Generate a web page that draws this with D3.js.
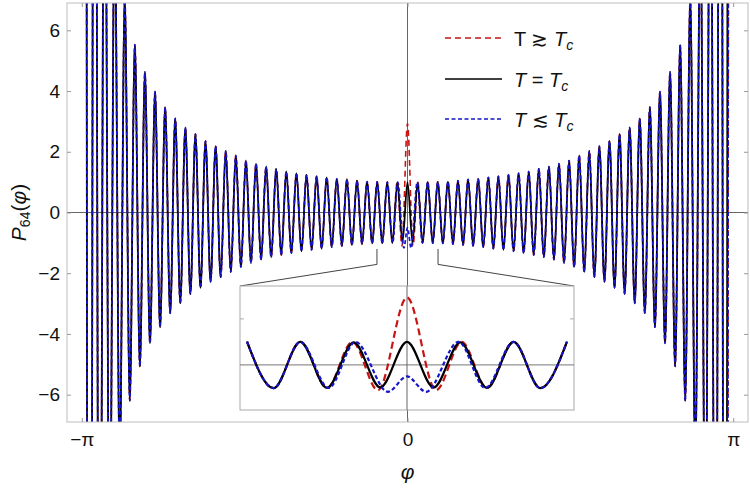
<!DOCTYPE html>
<html>
<head>
<meta charset="utf-8" />
<title>P64 near Tc</title>
<script src="https://d3js.org/d3.v7.min.js"></script>
<style>
  body { margin: 0; background: #fff; }
  text { font-family: "Liberation Sans", Arial, sans-serif; fill: #111; }
</style>
</head>
<body>
<svg width="750" height="492"></svg>
<script>
// T = Tc curve: value at each extremum for phi >= 0, one every half period
const blackExtrema = [
   1.00, -0.98,  0.98, -1.00,  1.00, -1.01,  1.01, -1.02,  1.02, -1.04,
   1.05, -1.07,  1.09, -1.10,  1.11, -1.14,  1.16, -1.19,  1.19, -1.23,
   1.24, -1.28,  1.30, -1.34,  1.35, -1.40,  1.44, -1.47,  1.51, -1.55,
   1.61, -1.66,  1.71, -1.80,  1.88, -1.96,  2.03, -2.13,  2.18, -2.28,
   2.35, -2.48,  2.58, -2.68,  2.80, -2.99,  3.10, -3.32,  3.47, -3.78,
   3.98, -4.31,  4.63, -5.07,  5.53, -6.20,  7.10, -8.30, 10.0, -12.5,
  16.0, -22.0, 32.0, -55.0, 120.0
];
const halfPeriod = Math.PI / 64.5;   // spacing of the extrema in phi

// the two other curves only differ near phi = 0 (phi in units of pi)
const redPhi  = [0, 0.0169, 0.0318];
const redVal  = [2.93, -1.10, 1.00];
const bluePhi = [0, 0.0111, 0.0300, 0.0455];
const blueVal = [-0.50, -1.17, 1.00, -1.00];

const yTicks = [-6, -4, -2, 0, 2, 4, 6];
const xTicks = [-Math.PI, 0, Math.PI];
const xTickLabels = ["−π", "0", "π"];
const zoomRange = [-3 * Math.PI / 32, 3 * Math.PI / 32];

const svg = d3.select("svg");

function buildSeries(cPhi, cVal) {
  const right = cPhi.map((p, i) => [p * Math.PI, cVal[i]]);
  for (let j = cPhi.length; j < blackExtrema.length; j++) {
    right.push([j * halfPeriod, blackExtrema[j]]);
  }
  const left = right.slice(1).map(d => [-d[0], d[1]]).reverse();
  return left.concat(right);
}

const series = [
  { name: "above", data: buildSeries(redPhi, redVal), color: "#c81414", dash: "6,4", w: 1.6 },
  { name: "at", data: buildSeries([], []), color: "#000", dash: null, w: 1.8 },
  { name: "below", data: buildSeries(bluePhi, blueVal), color: "#1414c8", dash: "4,2.5", w: 1.7 }
];

// main plot
const plot = { left: 67, right: 748, top: 3, bottom: 422 };
const x = d3.scaleLinear().domain([-1.0455 * Math.PI, 1.0455 * Math.PI]).range([plot.left, plot.right]);
const y = d3.scaleLinear().domain([-6.9, 6.9]).range([plot.bottom, plot.top]);

svg.append("defs").append("clipPath").attr("id", "clipMain")
  .append("rect")
  .attr("x", plot.left).attr("y", plot.top)
  .attr("width", plot.right - plot.left).attr("height", plot.bottom - plot.top);

// zero axes
svg.append("line").attr("x1", plot.left).attr("x2", plot.right)
  .attr("y1", y(0)).attr("y2", y(0)).attr("stroke", "#666").attr("stroke-width", 1);
svg.append("line").attr("x1", x(0)).attr("x2", x(0))
  .attr("y1", plot.top).attr("y2", plot.bottom).attr("stroke", "#666").attr("stroke-width", 1);

const line = d3.line()
  .x(d => x(d[0]))
  .y(d => y(d[1]))
  .curve(d3.curveMonotoneX);

const curves = svg.append("g").attr("clip-path", "url(#clipMain)");
series.forEach(s => {
  curves.append("path")
    .attr("d", line(s.data))
    .attr("fill", "none")
    .attr("stroke", s.color)
    .attr("stroke-width", s.w)
    .attr("stroke-dasharray", s.dash);
});

// frame with ticks
const frame = svg.append("g");
frame.append("rect")
  .attr("x", plot.left).attr("y", plot.top)
  .attr("width", plot.right - plot.left).attr("height", plot.bottom - plot.top)
  .attr("fill", "none").attr("stroke", "#bdbdbd");

const yAxis = frame.append("g").attr("transform", "translate(" + plot.left + ",0)")
  .call(d3.axisLeft(y).tickValues(yTicks).tickSize(-4).tickPadding(7)
    .tickFormat(d => d < 0 ? "−" + Math.abs(d) : d));
const yAxisR = frame.append("g").attr("transform", "translate(" + plot.right + ",0)")
  .call(d3.axisRight(y).tickValues(yTicks).tickSize(-4).tickFormat(""));
const xAxis = frame.append("g").attr("transform", "translate(0," + plot.bottom + ")")
  .call(d3.axisBottom(x).tickValues(xTicks).tickSize(-4).tickPadding(11)
    .tickFormat((d, i) => xTickLabels[i]));
const xAxisT = frame.append("g").attr("transform", "translate(0," + plot.top + ")")
  .call(d3.axisTop(x).tickValues(xTicks).tickSize(-4).tickFormat(""));

[yAxis, yAxisR, xAxis, xAxisT].forEach(a => {
  a.select(".domain").remove();
  a.selectAll(".tick line").attr("stroke", "#999");
});
yAxis.selectAll("text").attr("font-size", 19).attr("fill", "#111")
  .attr("font-family", "Liberation Sans, Arial, sans-serif");
xAxis.selectAll("text").attr("font-size", 19).attr("fill", "#111")
  .attr("font-family", "Liberation Sans, Arial, sans-serif");

// axis titles
svg.append("text")
  .attr("x", x(0)).attr("y", 479)
  .attr("text-anchor", "middle")
  .attr("font-size", 21).attr("font-style", "italic")
  .text("φ");

const yTitle = svg.append("text")
  .attr("transform", "translate(26," + y(0) + ") rotate(-90)")
  .attr("text-anchor", "middle")
  .attr("font-size", 21);
yTitle.append("tspan").attr("font-style", "italic").text("P");
yTitle.append("tspan").attr("font-size", 14).attr("dy", 4).text("64");
yTitle.append("tspan").attr("dy", -4).text("(");
yTitle.append("tspan").attr("font-style", "italic").text("φ");
yTitle.append("tspan").text(")");

// zoom bracket from the main plot to the inset
const inset = { left: 240, right: 574, top: 286, bottom: 410 };
const bracket = svg.append("g").attr("stroke", "#444").attr("fill", "none").attr("stroke-width", 1);
bracket.append("path").attr("d", d3.line()([
  [x(zoomRange[0]), y(-1.2)], [x(zoomRange[0]), y(-1.71)], [inset.left, inset.top]
]));
bracket.append("path").attr("d", d3.line()([
  [x(zoomRange[1]), y(-1.2)], [x(zoomRange[1]), y(-1.71)], [inset.right, inset.top]
]));

// inset
const xi = d3.scaleLinear().domain([-0.0971 * Math.PI, 0.0971 * Math.PI]).range([inset.left, inset.right]);
const yi = d3.scaleLinear().domain([-1.96, 3.43]).range([inset.bottom, inset.top]);
const gi = svg.append("g");
gi.append("rect")
  .attr("x", inset.left).attr("y", inset.top)
  .attr("width", inset.right - inset.left).attr("height", inset.bottom - inset.top)
  .attr("fill", "#fff").attr("stroke", "#aaa");
gi.append("line").attr("x1", inset.left).attr("x2", inset.right)
  .attr("y1", yi(0)).attr("y2", yi(0)).attr("stroke", "#777");
gi.append("line").attr("x1", xi(0)).attr("x2", xi(0))
  .attr("y1", inset.top).attr("y2", inset.bottom).attr("stroke", "#666");
[inset.left, inset.right].forEach((xx, k) => {
  gi.append("line").attr("x1", xx).attr("x2", xx + (k ? -4 : 4))
    .attr("y1", yi(2)).attr("y2", yi(2)).attr("stroke", "#aaa");
});

const lineInset = d3.line()
  .x(d => xi(d[0]))
  .y(d => yi(d[1]))
  .curve(d3.curveMonotoneX);
const insetDash = { above: "7,4", at: null, below: "4,2.5" };
series.forEach(s => {
  const part = s.data.filter(d => Math.abs(d[0]) <= 6 * halfPeriod + 1e-9);
  gi.append("path")
    .attr("d", lineInset(part))
    .attr("fill", "none")
    .attr("stroke", s.color)
    .attr("stroke-width", 2.2)
    .attr("stroke-dasharray", insetDash[s.name]);
});

// legend
const legendRows = [
  { s: series[0], y: 38, parts: [["T ≳ ", "normal"], ["T", "italic"]] },
  { s: series[1], y: 79, parts: [["T", "italic"], [" = ", "normal"], ["T", "italic"]] },
  { s: series[2], y: 119, parts: [["T", "italic"], [" ≲ ", "normal"], ["T", "italic"]] }
];
const legend = svg.append("g");
legendRows.forEach(r => {
  legend.append("line")
    .attr("x1", 445).attr("x2", 502).attr("y1", r.y).attr("y2", r.y)
    .attr("stroke", r.s.color).attr("stroke-width", 1.5)
    .attr("stroke-dasharray", r.s.dash);
  const t = legend.append("text").attr("x", 514).attr("y", r.y + 8).attr("font-size", 20);
  r.parts.forEach(p => t.append("tspan").attr("font-style", p[1]).text(p[0]));
  t.append("tspan").attr("font-style", "italic").attr("font-size", 14).attr("dy", 4).text("c");
});
</script>
</body>
</html>
